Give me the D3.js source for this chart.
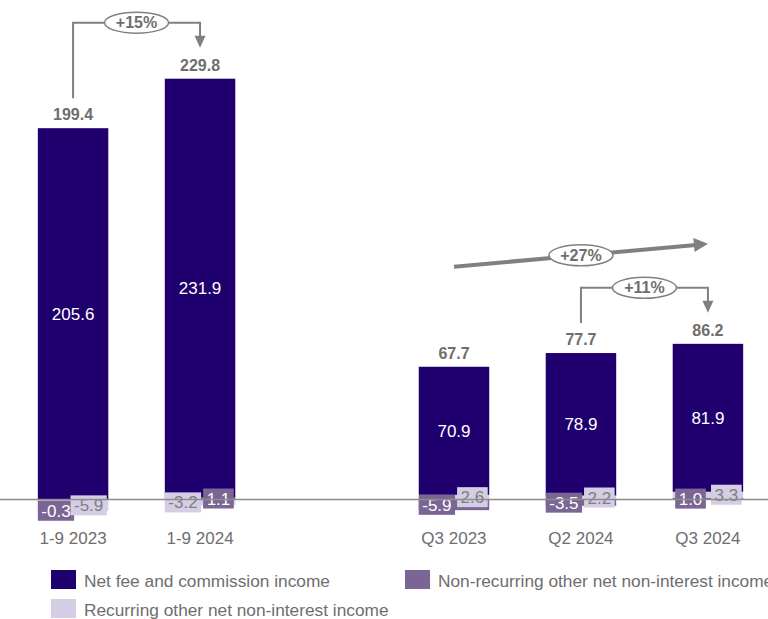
<!DOCTYPE html>
<html>
<head>
<meta charset="utf-8">
<script src="https://cdn.jsdelivr.net/npm/d3@7"></script>
<style>
  html, body { margin: 0; padding: 0; background: #ffffff; }
  svg { display: block; }
  text { font-family: "Liberation Sans", Arial, Helvetica, sans-serif; }
</style>
</head>
<body>
<svg id="chart" width="768" height="619"></svg>
<script>
// Income components, EUR m
const categories   = ["1-9 2023", "1-9 2024", "Q3 2023", "Q2 2024", "Q3 2024"];
const netFee       = [205.6, 231.9, 70.9, 78.9, 81.9];
const nonRecurring = [-0.3, 1.1, -5.9, -3.5, 1.0];
const recurring    = [-5.9, -3.2, 2.6, 2.2, 3.3];
const totals       = [199.4, 229.8, 67.7, 77.7, 86.2];
const seriesNames  = ["Net fee and commission income",
                      "Non-recurring other net non-interest income",
                      "Recurring other net non-interest income"];
// growth comparisons: [from, to, style]
const comparisons  = [["1-9 2023", "1-9 2024", "bracket"],
                      ["Q2 2024", "Q3 2024", "bracket"],
                      ["Q3 2023", "Q3 2024", "diagonal"]];

const colors = { fee: "#20006f", nonrec: "#7a6595", rec: "#d4cde4" };
const grey = "#6e6e6e";
const arrowGrey = "#808080";

const svg = d3.select("#chart");

const rows = categories.map((c, i) => ({
  cat: c, nonrec: nonRecurring[i], rec: recurring[i], fee: netFee[i], total: totals[i]
}));

const stacked = d3.stack()
  .keys(["nonrec", "rec", "fee"])
  .offset(d3.stackOffsetDiverging)(rows);

// a blank slot separates the year-to-date pair from the quarters
const slots = [categories[0], categories[1], "__gap", ...categories.slice(2)];
const x = d3.scaleBand().domain(slots).range([0, 781])
  .paddingInner(0.445).paddingOuter(0.298);
const y = d3.scaleLinear().domain([0, 240]).range([499.5, 499.5 - 240 * 1.806]);

const topOf = cat => {
  const fee = stacked[2].find(d => d.data.cat === cat);
  return y(fee[1]);
};
const centerOf = cat => x(cat) + x.bandwidth() / 2;

// bars
const g = svg.append("g");
stacked.forEach(layer => {
  g.selectAll(null).data(layer).join("rect")
    .attr("x", d => x(d.data.cat))
    .attr("width", x.bandwidth())
    .attr("y", d => y(Math.max(d[0], d[1])))
    .attr("height", d => Math.abs(y(d[0]) - y(d[1])))
    .attr("fill", colors[layer.key]);
});

// zero line
svg.append("line")
  .attr("x1", 0).attr("x2", 768)
  .attr("y1", y(0)).attr("y2", y(0))
  .attr("stroke", "#8c8c8c").attr("stroke-width", 1.6);

// value inside the net fee segment
g.selectAll(null).data(stacked[2]).join("text")
  .attr("x", d => centerOf(d.data.cat))
  .attr("y", d => (y(d[0]) + y(d[1])) / 2 + 6)
  .attr("text-anchor", "middle")
  .attr("font-size", 17)
  .attr("fill", "#ffffff")
  .text(d => d.data.fee.toFixed(1));

// totals above bars
g.selectAll(null).data(rows).join("text")
  .attr("x", d => centerOf(d.cat))
  .attr("y", d => topOf(d.cat) - 8)
  .attr("text-anchor", "middle")
  .attr("font-size", 16)
  .attr("font-weight", "bold")
  .attr("fill", grey)
  .text(d => d.total.toFixed(1));

// small component labels on filled boxes near the zero line
const leftKey = { "1-9 2024": "rec" };     // which component sits on the left half
const nudgeY  = { "1-9 2023": { nonrec: 11 } };
const boxH = 20, pad = 3.5;
["nonrec", "rec"].forEach((key, ki) => {
  const layer = stacked[ki];
  layer.forEach(d => {
    const cat = d.data.cat;
    const onLeft = (leftKey[cat] || "nonrec") === key;
    const cy = (y(d[0]) + y(d[1])) / 2 + ((nudgeY[cat] || {})[key] || 0);
    const label = g.append("g");
    const txt = label.append("text")
      .attr("font-size", 17)
      .attr("fill", key === "nonrec" ? "#ffffff" : "#7f7f7f")
      .attr("y", cy + 6)
      .text(d.data[key].toFixed(1));
    const w = txt.node().getComputedTextLength() + pad * 2;
    const bx = onLeft ? x(cat) + (d.data[key] > 0 && key === "nonrec" ? 2.5 : 0)
                      : x(cat) + x.bandwidth() - w - 1.5;
    txt.attr("x", bx + pad);
    label.insert("rect", "text")
      .attr("x", bx).attr("y", cy - boxH / 2)
      .attr("width", w).attr("height", boxH)
      .attr("fill", colors[key]);
  });
});

// category axis labels
svg.selectAll(null).data(categories).join("text")
  .attr("x", d => centerOf(d))
  .attr("y", 544)
  .attr("text-anchor", "middle")
  .attr("font-size", 17)
  .attr("fill", grey)
  .text(d => d);

// growth annotations
const pct = (a, b) => "+" + Math.round((b / a - 1) * 100) + "%";
const totalOf = cat => rows.find(r => r.cat === cat).total;
const ann = svg.append("g");

function badge(cx, cy, text) {
  ann.append("ellipse")
    .attr("cx", cx).attr("cy", cy).attr("rx", 32).attr("ry", 10.5)
    .attr("fill", "#ffffff").attr("stroke", arrowGrey).attr("stroke-width", 1.5);
  ann.append("text")
    .attr("x", cx).attr("y", cy + 5.5)
    .attr("text-anchor", "middle")
    .attr("font-size", 16).attr("font-weight", "bold")
    .attr("fill", grey)
    .text(text);
}

function arrowHead(tipX, tipY, angle, len, half) {
  const ux = Math.cos(angle), uy = Math.sin(angle);
  const bx = tipX - ux * len, by = tipY - uy * len;
  const pts = [[tipX, tipY], [bx - uy * half, by + ux * half], [bx + uy * half, by - ux * half]];
  ann.append("path").attr("d", d3.line()(pts) + "Z").attr("fill", arrowGrey);
}

comparisons.forEach(([from, to, style]) => {
  const label = pct(totalOf(from), totalOf(to));
  const x0 = centerOf(from), x1 = centerOf(to);
  if (style === "bracket") {
    const level = topOf(to) - 56;
    const start = topOf(from) - 30;
    const tip = topOf(to) - 31;
    ann.append("path")
      .attr("d", d3.line()([[x0, start], [x0, level], [x1, level], [x1, tip - 10]]))
      .attr("fill", "none").attr("stroke", arrowGrey).attr("stroke-width", 2);
    arrowHead(x1, tip, Math.PI / 2, 12, 5.5);
    badge((x0 + x1) / 2, level, label);
  } else {
    const y0 = topOf(from) - 100, y1 = topOf(to) - 100;
    const ang = Math.atan2(y1 - y0, x1 - x0);
    const len = 14;
    ann.append("line")
      .attr("x1", x0).attr("y1", y0)
      .attr("x2", x1 - Math.cos(ang) * (len - 2)).attr("y2", y1 - Math.sin(ang) * (len - 2))
      .attr("stroke", arrowGrey).attr("stroke-width", 4);
    arrowHead(x1, y1, ang, len, 7);
    badge((x0 + x1) / 2, (y0 + y1) / 2, label);
  }
});

// legend
const legendItems = [
  { name: seriesNames[0], color: colors.fee,    x: 51,  y: 570 },
  { name: seriesNames[1], color: colors.nonrec, x: 405, y: 570 },
  { name: seriesNames[2], color: colors.rec,    x: 51,  y: 599 }
];
const lg = svg.append("g");
legendItems.forEach(it => {
  lg.append("rect").attr("x", it.x).attr("y", it.y).attr("width", 25).attr("height", 19)
    .attr("fill", it.color);
  lg.append("text").attr("x", it.x + 33).attr("y", it.y + 16.5)
    .attr("font-size", 17.3).attr("fill", grey).text(it.name);
});
</script>
</body>
</html>
